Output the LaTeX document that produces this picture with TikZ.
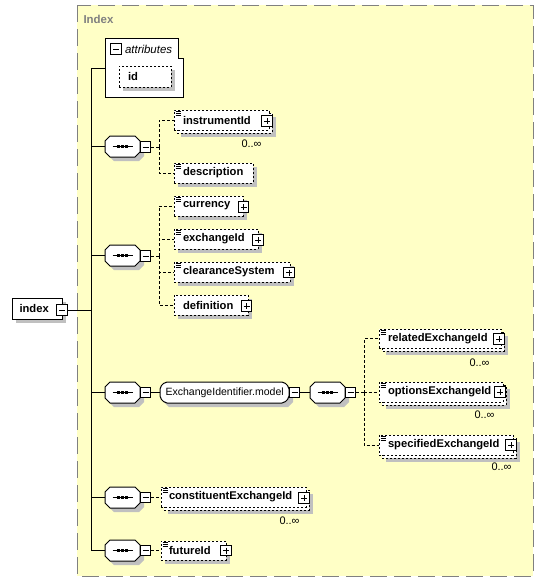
\documentclass[tikz,border=0pt]{standalone}
\usepackage{fontspec}
\setmainfont{Liberation Sans}
\usetikzlibrary{fit,calc}
\definecolor{bgyel}{RGB}{255,255,198}
\definecolor{brd}{RGB}{128,128,128}
\definecolor{shd}{RGB}{192,192,192}
\newcommand\bfn{\fontsize{8.4}{10}\selectfont\bfseries}
\newcommand\rgn{\fontsize{8.2}{10}\selectfont}
\tikzset{
  ebox/.style={draw=black, fill=white, dash pattern=on 1.5pt off 1.5pt, inner sep=0pt},
  sbox/.style={draw=black, fill=white, inner sep=0pt},
  etext/.style={font=\bfn, inner sep=0pt},
  rtext/.style={font=\rgn, inner sep=0pt},
  sqbox/.style={draw=black, fill=white, inner sep=0pt, minimum size=7.6pt},
  dconn/.style={dash pattern=on 2.25pt off 1.5pt},
  glyph/.style={line width=0.6pt}
}
% element boxes
\newcommand\xsingle[7]{%
  \fill[shd] (#2+4,#3+4) rectangle (#4+4,#5+4);
  \node[ebox, fit={(#2,#3)(#4,#5)}] (#1) {};
  \node[etext, anchor=west] (#1-t) at ($(#1.west)+(#7,0)$) {#6};
}
\newcommand\xmulti[7]{%
  \fill[shd] (#2+7,#3+7) rectangle (#4+7,#5+7);
  \filldraw[ebox] (#2+3,#3+3) rectangle (#4+3,#5+3);
  \node[ebox, fit={(#2,#3)(#4,#5)}] (#1) {};
  \node[etext, anchor=west] (#1-t) at ($(#1.west)+(#7,0)$) {#6};
}
\newcommand\xicon[1]{%
  \draw[line width=0.5pt] ($(#1.north west)+(2,1.5)$) -- +(5,0)
     ($(#1.north west)+(2,3.5)$) -- +(5,0)
     ($(#1.north west)+(2,5.5)$) -- +(5,0);
}
\newcommand\xplus[3]{%
  \node[sqbox] (#1) at (#2,#3) {};
  \draw[glyph] (#1.center) +(-3,0) -- +(3,0) (#1.center) +(0,-3) -- +(0,3);
}
\newcommand\xminus[3]{%
  \node[sqbox] (#1) at (#2,#3) {};
  \draw[glyph] (#1.center) +(-3,0) -- +(3,0);
}
\newcommand\octpath[4]{(#1+5,#2) -- (#3-5,#2) -- (#3,#2+5) -- (#3,#4-5) -- (#3-5,#4) -- (#1+5,#4) -- (#1,#4-5) -- (#1,#2+5) -- cycle}
\newcommand\xcompo[5]{%
  \fill[shd] \octpath{#2+4}{#3+4}{#4+4}{#5+4};
  \filldraw[fill=white, draw=black] \octpath{#2}{#3}{#4}{#5};
  \node[inner sep=0pt, fit={(#2,#3)(#4,#5)}] (#1) {};
  \draw ($(#1.west)+(8,0)$) -- ($(#1.east)+(-8,0)$);
  \foreach \dx in {-4,0,4} {\fill ($(#1.center)+(\dx-1.3,-1.3)$) rectangle +(2.6,2.6);}
}
\begin{document}
\begin{tikzpicture}[x=0.75pt,y=-0.75pt,line width=0.75pt]
\useasboundingbox (0,0) rectangle (544,582);
% background group
\filldraw[fill=bgyel, draw=brd, dash pattern=on 12.75pt off 5.25pt] (77,5) rectangle (533,576);
\node[font=\fontsize{8.6}{10}\selectfont\bfseries, text=brd, anchor=west, inner sep=0pt] (title) at (83,19) {Index};

% attributes
\filldraw[fill=white, draw=black] (105,38) -- (178,38) -- (178,58) -- (183,58) -- (183,97) -- (105,97) -- cycle;
\node[inner sep=0pt, fit={(105,38)(183,97)}] (attr) {};
\xminus{attrmin}{116}{49}
\node[font=\fontsize{8.6}{10}\selectfont\itshape, anchor=west, inner sep=0pt] (attrlbl) at (124.5,49) {attributes};
\xsingle{id}{119}{66}{171}{87}{id}{9}

% root element
\fill[shd] (16,302) rectangle (66,323);
\node[sbox, fit={(12,298)(62,319)}] (index) {};
\node[etext, anchor=west] (index-t) at (19,308.5) {index};
\xminus{indexmin}{62}{310}

% compositors
\xcompo{c1}{105}{136}{140}{157}
\xminus{m1}{145.5}{147}
\xcompo{c2}{105}{245}{140}{266}
\xminus{m2}{145.5}{256}
\xcompo{c3}{105}{382}{140}{403}
\xminus{m3}{145.5}{392.5}
\xcompo{c4}{105}{487}{140}{508}
\xminus{m4}{145.5}{497.5}
\xcompo{c5}{105}{540}{140}{561}
\xminus{m5}{145.5}{550.5}

% group
\fill[shd] \octpath{164}{386}{293}{407};
\filldraw[fill=white, draw=black, rounded corners=1.5pt] \octpath{160}{382}{289}{403};
\node[inner sep=0pt, fit={(160,382)(289,403)}] (grp) {};
\node[font=\fontsize{7.9}{10}\selectfont, inner sep=0pt, anchor=west] (grp-t) at (165,392.5) {ExchangeIdentifier.model};
\xminus{grpmin}{294.5}{392.5}
\xcompo{c6}{310}{382}{345}{403}
\xminus{m6}{350.5}{392.5}

% elements
\xmulti{instr}{174}{110}{269}{130}{instrumentId}{9}
\xicon{instr}\xplus{instrp}{267}{121}
\node[rtext, anchor=east] (instr-m) at (262,144) {0..∞};
\xsingle{desc}{174}{163}{253}{183}{description}{9}
\xicon{desc}

\xsingle{curr}{174}{196}{243}{216}{currency}{9}
\xicon{curr}\xplus{currp}{243.5}{207}
\xsingle{exch}{174}{229}{258}{249}{exchangeId}{9}
\xicon{exch}\xplus{exchp}{258}{240}
\xsingle{clear}{174}{262}{290}{282}{clearanceSystem}{9}
\xicon{clear}\xplus{clearp}{289}{272.5}
\xsingle{defn}{174}{295}{248}{315}{definition}{9}
\xplus{defnp}{246.5}{306}

\xmulti{rel}{379}{329}{501}{348}{relatedExchangeId}{9}
\xicon{rel}\xplus{relp}{499}{339}
\node[rtext, anchor=east] (rel-m) at (490,363) {0..∞};
\xmulti{opt}{379}{382}{503}{402}{optionsExchangeId}{9}
\xicon{opt}\xplus{optp}{500}{392}
\node[rtext, anchor=east] (opt-m) at (495,415) {0..∞};
\xmulti{spec}{379}{435}{513}{455}{specifiedExchangeId}{9}
\xicon{spec}\xplus{specp}{511}{445}
\node[rtext, anchor=east] (spec-m) at (512,467) {0..∞};

\xmulti{cons}{161}{487}{306}{507}{constituentExchangeId}{8}
\xicon{cons}\xplus{consp}{304}{498}
\node[rtext, anchor=east] (cons-m) at (300,521) {0..∞};
\xsingle{fut}{161}{541}{226}{560}{futureId}{8}
\xicon{fut}\xplus{futp}{226}{550.5}

% trunk connectors
\coordinate (ttop) at (91,68);
\draw (ttop) -- (ttop |- c5.west);
\draw (ttop) -- (ttop -| attr.west);
\draw (indexmin.east) -- (indexmin.east -| ttop);
\foreach \c in {c1,c2,c3,c4,c5} {\draw (\c.west -| ttop) -- (\c.west);}

% sequence 1
\coordinate (j1) at ($(m1.east)+(8,0)$);
\draw[dconn] (m1.east) -- (j1);
\draw[dconn] (j1) |- (instr.west);
\draw[dconn] (j1) |- (desc.west);
% sequence 2
\coordinate (j2) at ($(m2.east)+(8,0)$);
\draw[dconn] (m2.east) -- (j2);
\draw[dconn] (j2) |- (curr.west);
\draw[dconn] (j2) |- (exch.west);
\draw[dconn] (j2) |- (clear.west);
\draw[dconn] (j2) |- (defn.west);
% sequence 3
\draw (m3.east) -- (grp.west);
\draw (grpmin.east) -- (c6.west);
\coordinate (j6) at ($(m6.east)+(8,0)$);
\draw[dconn] (m6.east) -- (j6);
\draw[dconn] (j6) |- (rel.west);
\draw[dconn] (j6) |- (opt.west);
\draw[dconn] (j6) |- (spec.west);
% sequences 4, 5
\draw[dconn] (m4.east) -- (m4.east -| cons.west);
\draw[dconn] (m5.east) -- (m5.east -| fut.west);
\end{tikzpicture}
\end{document}
